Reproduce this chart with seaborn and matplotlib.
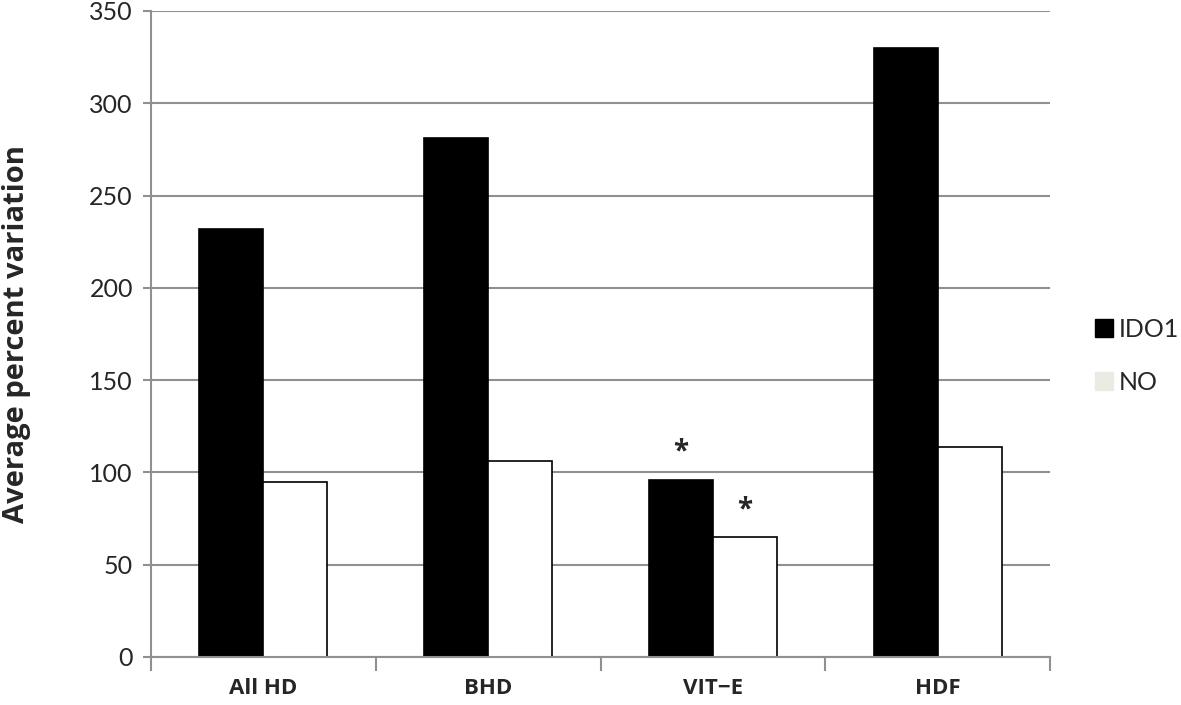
import matplotlib
matplotlib.use("Agg")
import matplotlib.pyplot as plt
import seaborn as sns
import pandas as pd
import numpy as np
from matplotlib.patches import Patch

categories = ["All HD", "BHD", "VIT\u2212E", "HDF"]
ido1 = [232, 281, 96, 330]
no_vals = [95, 106, 65, 114]
series = ["IDO1", "NO"]
significant_ido1 = [False, False, True, False]
significant_no = [False, False, True, False]

df = pd.DataFrame({
    "cat": categories * 2,
    "val": ido1 + no_vals,
    "series": [series[0]] * 4 + [series[1]] * 4,
})

sns.set_theme(style="white")
plt.rcParams['font.family'] = ['Lato', 'DejaVu Sans']
BOLD = ['Open Sans', 'DejaVu Sans']

fig = plt.figure(figsize=(11.81, 7.05), dpi=100)
ax = fig.add_axes([151/1181, 48/705, 899/1181, 646/705])

sns.barplot(data=df, x="cat", y="val", hue="series", order=categories,
            hue_order=series, palette={"IDO1": "black", "NO": "white"},
            width=0.57, edgecolor="black", linewidth=1.2, saturation=1,
            legend=False, ax=ax)

ax.set_ylim(0, 350)
ax.set_xlim(-0.5, 3.5)
ax.set_yticks(np.arange(0, 351, 50))
ax.yaxis.grid(True, color="#909090", linewidth=1.5)
ax.set_axisbelow(True)
for s in ["top", "right"]:
    ax.spines[s].set_visible(False)
for s in ["left", "bottom"]:
    ax.spines[s].set_color("#909090")
    ax.spines[s].set_linewidth(1.5)

ax.tick_params(axis="y", length=6, color="#909090", width=1.5, labelsize=18, pad=7, left=True)
ax.set_xticks(range(4))
ax.set_xticklabels(categories, fontsize=16, fontweight="bold", family=BOLD)
ax.tick_params(axis="x", length=0, pad=15)
ax.set_xticks(np.arange(-0.5, 3.6, 1), minor=True)
ax.tick_params(axis="x", which="minor", length=10, color="#909090", width=1.5, bottom=True)
ax.set_xlabel("")
ax.set_ylabel("Average percent variation", fontsize=21, fontweight="bold",
              family=BOLD, labelpad=42)

# asterisks
bars_ido1 = ax.containers[0]
bars_no = ax.containers[1]
for bars, sig in ((bars_ido1, significant_ido1), (bars_no, significant_no)):
    for b, flag in zip(bars, sig):
        if flag:
            ax.text(b.get_x() + b.get_width() / 2, b.get_height() + 7, "*",
                    ha="center", va="bottom", fontsize=20, fontweight="bold", family=BOLD)

handles = [Patch(facecolor="black", edgecolor="black"),
           Patch(facecolor="#ebebe3", edgecolor="#ebebe3")]
fig.legend(handles, series, loc="center left", bbox_to_anchor=(1090/1181, 1 - 356/705),
           frameon=False, fontsize=18, handlelength=0.7, handleheight=0.7,
           handletextpad=0.25, labelspacing=1.2, borderaxespad=0, borderpad=0.2)

fig.savefig("out.png", dpi=100)
